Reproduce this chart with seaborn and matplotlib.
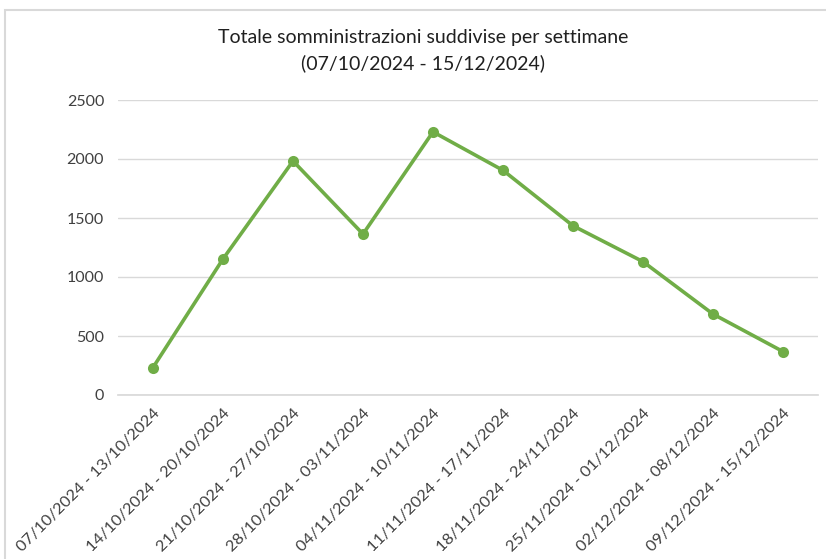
import pandas as pd
import seaborn as sns
import matplotlib.pyplot as plt
from matplotlib.patches import Rectangle

# weekly totals
weeks = ['07/10/2024 - 13/10/2024', '14/10/2024 - 20/10/2024', '21/10/2024 - 27/10/2024',
         '28/10/2024 - 03/11/2024', '04/11/2024 - 10/11/2024', '11/11/2024 - 17/11/2024',
         '18/11/2024 - 24/11/2024', '25/11/2024 - 01/12/2024', '02/12/2024 - 08/12/2024',
         '09/12/2024 - 15/12/2024']
totals = [233, 1153, 1983, 1364, 2230, 1904, 1434, 1130, 686, 368]

df = pd.DataFrame({'Settimana': weeks, 'Totale': totals})

sns.set_theme(style="white")
plt.rcParams['font.family'] = ['Lato', 'DejaVu Sans']

fig = plt.figure(figsize=(8.26, 5.59), dpi=100)
ax = fig.add_axes([118 / 826, 1 - 395 / 559, 700 / 826, 295 / 559])

sns.lineplot(data=df, x='Settimana', y='Totale', ax=ax, color='#70AD47', linewidth=2.6,
             marker='o', markersize=8, markeredgewidth=0, sort=False)

ax.set_xlim(-0.5, len(weeks) - 0.5)
ax.set_ylim(0, 2500)
ax.set_yticks([0, 500, 1000, 1500, 2000, 2500])
ax.yaxis.grid(True, color='#d9d9d9', linewidth=1)
ax.xaxis.grid(False)
for s in ax.spines.values():
    s.set_visible(False)
ax.spines['bottom'].set_visible(True)
ax.spines['bottom'].set_color('#d9d9d9')
ax.tick_params(axis='y', labelsize=11.5, colors='#404040', length=0, pad=10)
ax.tick_params(axis='x', labelsize=11.8, colors='#404040', length=0, pad=8)
plt.setp(ax.get_xticklabels(), rotation=45, ha='right', rotation_mode='anchor')
ax.set_xlabel('')
ax.set_ylabel('')

fig.text(423 / 826, 1 - 38 / 559, 'Totale somministrazioni suddivise per settimane',
         ha='center', va='center', fontsize=14, color='#202020')
fig.text(423 / 826, 1 - 63 / 559, '(07/10/2024 - 15/12/2024)',
         ha='center', va='center', fontsize=14, color='#202020')

# chart frame, only left and top edges visible
fig.patches.append(Rectangle((5 / 826, -0.1), 1.2, 1 - 10 / 559 + 0.1,
                             transform=fig.transFigure, fill=False,
                             edgecolor='#d9d9d9', linewidth=1.5))

fig.savefig('out.png', dpi=100)
